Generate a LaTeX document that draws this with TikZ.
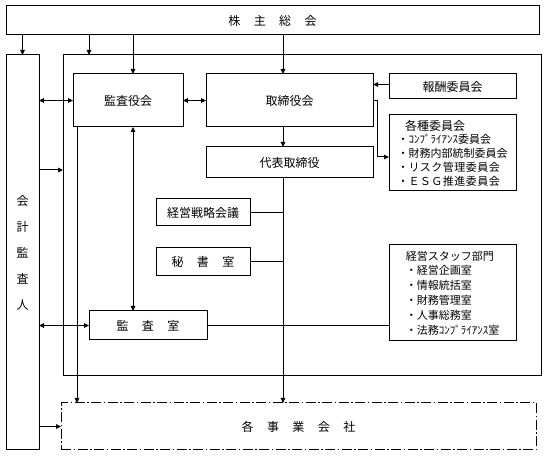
\documentclass[tikz,border=0pt]{standalone}
\usepackage{fontspec}
\setmainfont{Noto Sans CJK JP}
\usetikzlibrary{arrows.meta}
\newcommand{\wgap}{\hspace{1.12em}}

\begin{document}
\begin{tikzpicture}[x=1pt, y=-1pt,
    box/.style={draw, line width=1pt, inner sep=0pt, outer sep=0pt, font=\fontsize{12}{14}\selectfont},
    listbox/.style={box, align=left, font=\fontsize{11}{#1}\selectfont},
    dashdot/.style={box, dash pattern=on 10pt off 2.5pt on 1.5pt off 2.5pt},
    arr/.style={-{Triangle[length=5pt,width=4.5pt]}, line width=1pt},
    darr/.style={{Triangle[length=5pt,width=4.5pt]}-{Triangle[length=5pt,width=4.5pt]}, line width=1pt},
    link/.style={line width=1pt}]
    \useasboundingbox (0,0) rectangle (547,457);
    % Columns and rows
    \coordinate (colA) at (77,0);
    \coordinate (colB) at (89,0);
    \coordinate (colC) at (133,0);
    \coordinate (colD) at (283,0);
    \coordinate (colE) at (377,0);
    \coordinate (rowB) at (0,170);
    % Outer frame
    \node[box, minimum width=478, minimum height=321] (Outer) at (302,215.5) {};
    % Top and left
    \node[box, minimum width=533, minimum height=29] (Share) at (272.5,20.5) {株\wgap 主\wgap 総\wgap 会};
    \node[box, align=center, minimum width=33, minimum height=395, font=\fontsize{12}{26}\selectfont] (Firm) at (22.5,252.5) {会\\計\\監\\査\\人};
    % Boards
    \node[box, minimum width=110, minimum height=53] (Kansa) at (128,100.5) {監査役会};
    \node[box, minimum width=167, minimum height=53] (Board) at (289.5,100.5) {取締役会};
    \node[box, minimum width=167, minimum height=31] (CEO) at (289.5,162.5) {代表取締役};
    % Committees
    \node[box, minimum width=127, minimum height=25] (Reward) at (452.5,86.5) {報酬委員会};
    \node[listbox=13.7pt, minimum width=127, minimum height=76] (Committees) at (452.5,153)
        {\hspace*{.7em}{\fontsize{12}{13.7}\selectfont 各種委員会}\\・ｺﾝﾌﾟﾗｲｱﾝｽ委員会\\・財務内部統制委員会\\
         ・\makebox[8.3em][s]{リ\hfill ス\hfill ク\hfill 管\hfill 理\hfill 委\hfill 員\hfill 会}\\
         ・\makebox[8.3em][s]{Ｅ\hfill Ｓ\hfill Ｇ\hfill 推\hfill 進\hfill 委\hfill 員\hfill 会}};
    % Staff
    \node[box, minimum width=94, minimum height=27] (Strategy) at (203,212.5) {経営戦略会議};
    \node[box, minimum width=94, minimum height=28] (Secretary) at (203,262) {秘\wgap 書\wgap 室};
    \node[listbox=14.8pt, minimum width=127, minimum height=96] (Staff) at (452.5,293)
        {経営スタッフ部門\\・経営企画室\\・情報統括室\\・財務管理室\\・人事総務室\\・法務ｺﾝﾌﾟﾗｲｱﾝｽ室};
    \node[box, minimum width=118, minimum height=29] (Office) at (148,325.5) {監\wgap 査\wgap 室};
    % Group companies
    \node[dashdot, minimum width=475, minimum height=47] (Companies) at (298.5,426.5) {各\wgap 事\wgap 業\wgap 会\wgap 社};
    % Arrows from the top
    \draw[arr] (Firm.north |- Share.south) -- (Firm.north);
    \draw[arr] (Share.south -| colB) -- (Outer.north -| colB);
    \draw[arr] (Share.south -| colC) -- (Kansa.north -| colC);
    \draw[arr] (Share.south -| colD) -- (Board.north -| colD);
    % Arrows inside
    \draw[darr] (Firm.east |- Kansa.west) -- (Kansa.west);
    \draw[darr] (Kansa.east) -- (Board.west);
    \draw[arr] ([yshift=2pt]Reward.west) -- ([yshift=2pt]Reward.west -| Board.east);
    \draw[arr] (Board.east) -- (Board.east -| colE) |- ([yshift=-4pt]Committees.west);
    \draw[arr] (Board.south -| colD) -- (CEO.north -| colD);
    \draw[arr] (CEO.south -| colD) -- (Companies.north -| colD);
    \draw[link] (Strategy.east) -- (Strategy.east -| colD);
    \draw[link] (Secretary.east) -- (Secretary.east -| colD);
    \draw[darr] (Kansa.south -| colC) -- (Office.north -| colC);
    \draw[darr] (Firm.east |- Office.west) -- (Office.west);
    \draw[link] (Office.east) -- (Office.east -| Staff.west);
    \draw[arr] (Kansa.south -| colA) -- (Companies.north -| colA);
    \draw[arr] (Firm.east |- rowB) -- (Outer.west |- rowB);
    \draw[arr] (Firm.east |- Companies.west) -- (Companies.west);
\end{tikzpicture}
\end{document}
